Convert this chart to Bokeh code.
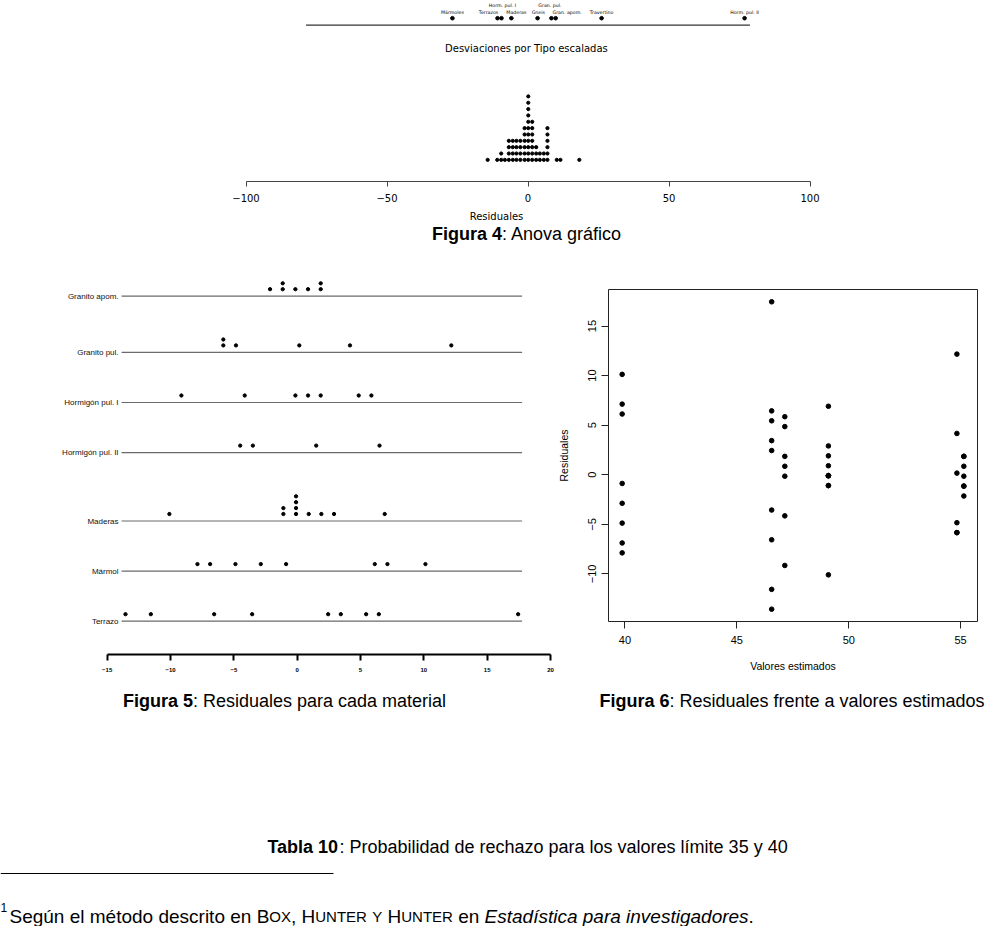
from collections import Counter
from bokeh.plotting import figure
from bokeh.models import Range1d, FixedTicker, ColumnDataSource
from bokeh.layouts import column, row
from bokeh.embed import file_html
from bokeh.resources import INLINE
from bokeh.core.properties import value

# ------------------------------------------------------------------ data
# Figura 4 (strip): scaled deviations per type
tipos = ["Mármoles", "Terrazos", "Horm. pul. I", "Maderas", "Gneis",
         "Gran. pul.", "Gran. apom.", "Travertino", "Horm. pul. II"]
desv_escaladas = [-26.8, -10.8, -9.4, -5.9, 3.4, 8.3, 9.8, 26.1, 76.8]

# Figura 4 (dotplot): residual classes and their frequencies
resid_clases = [-14.3, -10.9, -9.5, -8.2, -6.8, -5.4, -4.1, -2.7, -1.2, 0.1,
                1.5, 2.9, 4.2, 5.6, 6.9, 10.2, 11.5, 18.2]
resid_frecuencias = [1, 1, 2, 1, 4, 4, 4, 4, 6, 11, 7, 3, 2, 2, 6, 1, 1, 1]
eje4_ticks = [-100, -50, 0, 50, 100]

# Figuras 5 y 6: residuals per material
materiales = ["Granito apom.", "Granito pul.", "Hormigón pul. I",
              "Hormigón pul. II", "Maderas", "Mármol", "Terrazo"]
res_granito_apom = [1.857, 1.857, 0.857, -0.143, -1.143, -1.143, -2.143]
res_granito_pul = [12.167, 4.167, 0.167, -4.833, -5.833, -5.833]
res_hormigon_1 = [5.857, 4.857, 1.857, 0.857, -0.143, -4.143, -9.143]
res_hormigon_2 = [6.5, 1.5, -3.5, -4.5]
res_maderas = [6.909, 2.909, 1.909, 0.909, -0.091, -0.091, -0.091, -0.091,
               -1.091, -1.091, -10.091]
res_marmol = [10.125, 7.125, 6.125, -0.875, -2.875, -4.875, -6.875, -7.875]
res_terrazo = [17.444, 6.444, 5.444, 3.444, 2.444, -3.556, -6.556, -11.556, -13.556]

# fitted values shown in Figura 6
est_granito_apom = 55.143
est_granito_pul = 54.833
est_hormigon_1 = 47.143
est_maderas = 49.091
est_marmol = 39.875
est_terrazo = 46.556

eje5_ticks = [-15, -10, -5, 0, 5, 10, 15, 20]
eje6_xticks = [40, 45, 50, 55]
eje6_yticks = [-10, -5, 0, 5, 10, 15]

# ------------------------------------------------------------------ helpers
W = 992
SANS = "Liberation Sans"
DEJ = "DejaVu Sans"

REG = {' ': 278, ',': 278, '.': 278, ':': 278, 'A': 667, 'B': 667, 'E': 667,
       'F': 611, 'H': 722, 'N': 722, 'O': 778, 'P': 667, 'R': 722, 'S': 667,
       'T': 611, 'U': 722, 'V': 667, 'X': 667, 'Y': 667, 'a': 556, 'b': 556,
       'c': 500, 'd': 556, 'e': 556, 'f': 278, 'g': 556, 'h': 556, 'i': 222,
       'l': 222, 'm': 833, 'n': 556, 'o': 556, 'p': 556, 'r': 333, 's': 500,
       't': 278, 'u': 556, 'v': 500, 'y': 500, 'z': 500, 'á': 556, 'é': 556,
       'í': 278, 'ó': 556, 'ú': 556}
BOLD = {' ': 278, ':': 333, 'F': 611, 'T': 611, 'a': 556, 'b': 611, 'g': 611,
        'i': 278, 'l': 278, 'r': 389, 'u': 611}


def tw(s, size, bold=False):
    tab = BOLD if bold else REG
    return sum((556 if ch.isdigit() else tab.get(ch, 556)) for ch in s) * size / 1000.0


def clean(f):
    f.grid.visible = False
    f.outline_line_color = None
    f.background_fill_color = "white"
    f.border_fill_color = "white"
    return f


def text_fig(h):
    f = figure(width=W, height=h, x_range=Range1d(0, W), y_range=Range1d(h, 0),
               output_backend="svg", toolbar_location=None,
               x_axis_location=None, y_axis_location=None,
               min_border_left=0, min_border_right=0, min_border_top=0, min_border_bottom=0)
    f.frame_align = False
    return clean(f)


def put_text(f, x, y, s, size, style="normal", align="left", baseline="middle",
             font=SANS, color="black"):
    f.text(x=[x], y=[y], text=[s], text_font=value(font),
           text_font_size=value(f"{size}px"), text_font_style=style,
           text_align=align, text_baseline=baseline, text_color=color)


def caption(f, cx, cy, bold, reg, size=18):
    wb = tw(bold, size, True)
    wr = tw(reg, size, False)
    x0 = cx - (wb + wr) / 2.0
    put_text(f, x0, cy, bold, size, style="bold")
    put_text(f, x0 + wb, cy, reg, size)


# ------------------------------------------------------------------ Figura 4
HA = 224
FRAME_A = 184
PX4 = 2.82
ZERO4 = 527.5
figA = figure(width=W, height=HA, output_backend="svg", toolbar_location=None,
              x_range=Range1d(-ZERO4 / PX4, (W - ZERO4) / PX4),
              y_range=Range1d(FRAME_A, 0), y_axis_location=None,
              min_border_left=0, min_border_right=0, min_border_top=0,
              min_border_bottom=HA - FRAME_A)
figA.frame_align = False
clean(figA)

# top strip
lim = max(abs(v) for v in desv_escaladas) * 1.025
figA.segment(x0=[-lim], y0=[25], x1=[lim], y1=[25], line_color="#333", line_width=1.2)
figA.scatter(x=desv_escaladas, y=[18] * len(desv_escaladas), size=3.6,
             fill_color="black", line_color="black")
label_row = [0, 0, 1, 0, 0, 1, 0, 0, 0]
label_dx = [0, -9, 1, 5, 0.7, -1.5, 11.5, 0, 0]
srcA = ColumnDataSource(dict(x=desv_escaladas,
                             y=[5 if r else 12 for r in label_row],
                             t=tipos, dx=label_dx))
figA.text(x="x", y="y", text="t", x_offset="dx", source=srcA,
          text_font=value(DEJ), text_font_size=value("4.7px"),
          text_align="center", text_baseline="middle", text_color="black")
put_text(figA, 0, 49, "Desviaciones por Tipo  escaladas", 10, align="center", font=DEJ)

# stacked dotplot of residuals
dx_, dy_ = [], []
for c, n in zip(resid_clases, resid_frecuencias):
    for k in range(n):
        dx_.append(c)
        dy_.append(162 - 6.45 * k)
figA.scatter(x=dx_, y=dy_, size=3.2, fill_color="black", line_color="black")

axA = figA.xaxis[0]
axA.ticker = FixedTicker(ticks=eje4_ticks)
axA.bounds = (eje4_ticks[0], eje4_ticks[-1])
axA.major_label_overrides = {t: (str(t).replace("-", "−")) for t in eje4_ticks}
axA.axis_line_color = "#444"
axA.major_tick_line_color = "#444"
axA.minor_tick_line_color = None
axA.major_tick_out = 5
axA.major_tick_in = 0
axA.major_label_standoff = 7
axA.major_label_text_font = DEJ
axA.major_label_text_font_size = "10px"
axA.major_label_text_color = "black"
axA.axis_label = "Residuales"
axA.axis_label_text_font = DEJ
axA.axis_label_text_font_size = "10px"
axA.axis_label_text_font_style = "normal"
axA.axis_label_text_color = "black"
axA.axis_label_standoff = 6

# caption 4
figB = text_fig(270 - HA)
caption(figB, 526.5, 233 - HA, "Figura 4", ": Anova gráfico")

# ------------------------------------------------------------------ Figura 5
H56 = 420
W5 = 554
FRAME5 = 384
PX5 = 12.666
ZERO5 = 296.7
fig5 = figure(width=W5, height=H56, output_backend="svg", toolbar_location=None,
              x_range=Range1d(-ZERO5 / PX5, (W5 - ZERO5) / PX5),
              y_range=Range1d(FRAME5, 0), y_axis_location=None,
              min_border_left=0, min_border_right=0, min_border_top=0,
              min_border_bottom=H56 - FRAME5)
fig5.frame_align = False
clean(fig5)

res_por_material = [res_granito_apom, res_granito_pul, res_hormigon_1, res_hormigon_2,
                    res_maderas, res_marmol, res_terrazo]
all_res = [v for g in res_por_material for v in g]
rmin, rmax = min(all_res), max(all_res)
ext = (rmax - rmin) * 0.01
lx0, lx1 = rmin - ext, rmax + ext

stacks = [max(Counter(round(v, 2) for v in g).values()) for g in res_por_material]
bases = [0.0] * len(materiales)
bases[-1] = 350.7
for i in range(len(materiales) - 2, -1, -1):
    bases[i] = bases[i + 1] - (44 + 6.1 * stacks[i + 1])

fig5.segment(x0=[lx0] * len(bases), y0=bases, x1=[lx1] * len(bases), y1=bases,
             line_color="#6a6a6a", line_width=1.2)
fig5.text(x=[lx0] * len(bases), y=bases, text=materiales, x_offset=-3,
          text_font=value(SANS), text_font_size=value("8px"),
          text_align="right", text_baseline="middle", text_color="#111")
px5, py5 = [], []
for b, g in zip(bases, res_por_material):
    seen = Counter()
    for v in sorted(g):
        k = seen[round(v, 2)]
        seen[round(v, 2)] += 1
        px5.append(v)
        py5.append(b - 7 - 5.9 * k)
fig5.scatter(x=px5, y=py5, size=3.3, fill_color="black", line_color="black")

ax5 = fig5.xaxis[0]
ax5.ticker = FixedTicker(ticks=eje5_ticks)
ax5.bounds = (eje5_ticks[0], eje5_ticks[-1])
ax5.major_label_overrides = {t: str(t).replace("-", "−") for t in eje5_ticks}
ax5.axis_line_color = "black"
ax5.axis_line_width = 2
ax5.major_tick_line_color = "black"
ax5.major_tick_line_width = 2
ax5.minor_tick_line_color = None
ax5.major_tick_out = 6
ax5.major_tick_in = 0
ax5.major_label_standoff = 7
ax5.major_label_text_font = SANS
ax5.major_label_text_font_size = "6px"
ax5.major_label_text_font_style = "bold"
ax5.major_label_text_color = "black"

# ------------------------------------------------------------------ Figura 6
W6 = W - W5
est6 = [est_granito_apom, est_granito_pul, est_hormigon_1, est_maderas, est_marmol, est_terrazo]
res6 = [res_granito_apom, res_granito_pul, res_hormigon_1, res_maderas, res_marmol, res_terrazo]
x6 = [e for e, g in zip(est6, res6) for _ in g]
y6 = [v for g in res6 for v in g]
xr = max(x6) - min(x6)
yr = max(y6) - min(y6)
fig6 = figure(width=W6, height=H56, output_backend="svg", toolbar_location=None,
              x_range=Range1d(min(x6) - 0.04 * xr, max(x6) + 0.04 * xr),
              y_range=Range1d(min(y6) - 0.04 * yr, max(y6) + 0.04 * yr),
              min_border_left=51, min_border_right=W6 - 51 - 372, min_border_top=19,
              min_border_bottom=H56 - 19 - 332)
fig6.frame_align = False
fig6.grid.visible = False
fig6.background_fill_color = "white"
fig6.border_fill_color = "white"
fig6.outline_line_color = "#222"
fig6.outline_line_width = 1
fig6.scatter(x=x6, y=y6, size=4.6, fill_color="black", line_color="black")

for ax, ticks in ((fig6.xaxis[0], eje6_xticks), (fig6.yaxis[0], eje6_yticks)):
    ax.ticker = FixedTicker(ticks=ticks)
    ax.major_label_overrides = {t: str(t).replace("-", "−") for t in ticks}
    ax.axis_line_color = None
    ax.major_tick_line_color = "#222"
    ax.minor_tick_line_color = None
    ax.major_tick_out = 7
    ax.major_tick_in = 0
    ax.major_label_text_font = SANS
    ax.major_label_text_font_size = "11px"
    ax.major_label_text_color = "black"
    ax.axis_label_text_font = SANS
    ax.axis_label_text_font_size = "10.5px"
    ax.axis_label_text_font_style = "normal"
    ax.axis_label_text_color = "black"
fig6.xaxis[0].axis_label = "Valores estimados"
fig6.xaxis[0].major_label_standoff = 7
fig6.xaxis[0].axis_label_standoff = 13
fig6.yaxis[0].axis_label = "Residuales"
fig6.yaxis[0].major_label_orientation = "vertical"
fig6.yaxis[0].major_label_standoff = 5
fig6.yaxis[0].axis_label_standoff = 16

# ------------------------------------------------------------------ bottom texts
TOPC = 690
HC = 926 - TOPC
figC = text_fig(HC)
caption(figC, 284, 700 - TOPC, "Figura 5", ": Residuales para cada material")
caption(figC, 791.5, 700 - TOPC, "Figura 6", ": Residuales frente a valores estimados")
caption(figC, 527, 846 - TOPC, "Tabla 10", ": Probabilidad de rechazo para los valores límite 35 y 40")
figC.segment(x0=[0], y0=[873 - TOPC], x1=[333], y1=[873 - TOPC], line_color="black", line_width=1)

FS = 19
SC = 15
put_text(figC, 0, 907 - TOPC, "1", 12, baseline="alphabetic")
pieces = [("Según el método descrito en ", FS, "normal"), ("B", FS, "normal"),
          ("OX", SC, "normal"), (", ", FS, "normal"), ("H", FS, "normal"),
          ("UNTER", SC, "normal"), (" ", FS, "normal"), ("Y", SC, "normal"),
          (" ", FS, "normal"), ("H", FS, "normal"), ("UNTER", SC, "normal"),
          (" en ", FS, "normal"), ("Estadística para investigadores", FS, "italic"),
          (".", FS, "normal")]
xx = 9.0
for s, sz, st in pieces:
    body = s.strip()
    lead = tw(s[:len(s) - len(s.lstrip())], sz)
    if body:
        put_text(figC, xx + lead, 916 - TOPC, body, sz, style=st, baseline="alphabetic")
    xx += tw(s, sz)

page = column(figA, figB, row(fig5, fig6), figC)
with open("out.html", "w") as fh:
    fh.write(file_html(page, INLINE))
